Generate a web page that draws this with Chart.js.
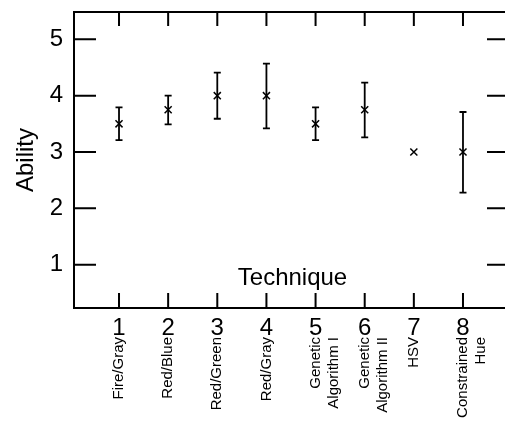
<!DOCTYPE html>
<html>
<head>
<meta charset="utf-8">
<script src="https://cdn.jsdelivr.net/npm/chart.js@4"></script>
<style>
  html, body { margin: 0; padding: 0; background: #fff; }
  #wrap { width: 505px; height: 421px; }
</style>
</head>
<body>
<div id="wrap"><canvas id="chart" width="505" height="421"></canvas></div>
<script>
const techniqueNumbers = [1, 2, 3, 4, 5, 6, 7, 8];
const techniqueNames = [
  ['Fire/Gray'], ['Red/Blue'], ['Red/Green'], ['Red/Gray'],
  ['Genetic', 'Algorithm I'], ['Genetic', 'Algorithm II'], ['HSV'], ['Constrained', 'Hue']
];
const meanAbility = [3.5, 3.75, 4.0, 4.0, 3.5, 3.75, 3.0, 3.0];
const errorLow = [3.21, 3.49, 3.59, 3.42, 3.21, 3.26, 3.0, 2.28];
const errorHigh = [3.79, 4.0, 4.41, 4.57, 3.79, 4.23, 3.0, 3.71];
const yTicks = [1, 2, 3, 4, 5];

const FONT = '"Liberation Sans", Arial, Helvetica, sans-serif';

// ticks point inward on all four sides, plus error bars and the inner title
const framePlugin = {
  id: 'frame',
  afterDraw(chart) {
    const { ctx, chartArea: a, scales } = chart;
    const x = scales.x, y = scales.y;
    ctx.save();
    ctx.strokeStyle = '#000';
    ctx.lineWidth = 2;
    ctx.beginPath();
    ctx.moveTo(a.left - 1, a.top);
    ctx.lineTo(a.right, a.top);
    techniqueNumbers.forEach(v => {
      const px = x.getPixelForValue(v);
      ctx.moveTo(px, a.top);
      ctx.lineTo(px, a.top + 14);
      ctx.moveTo(px, a.bottom);
      ctx.lineTo(px, a.bottom - 15);
    });
    yTicks.forEach(v => {
      const py = y.getPixelForValue(v);
      ctx.moveTo(a.left, py);
      ctx.lineTo(a.left + 22, py);
      ctx.moveTo(a.right - 18, py);
      ctx.lineTo(a.right, py);
    });
    ctx.stroke();

    // error bars
    ctx.lineWidth = 1.8;
    ctx.beginPath();
    techniqueNumbers.forEach((v, i) => {
      if (errorHigh[i] === errorLow[i]) return;
      const px = x.getPixelForValue(v);
      const top = y.getPixelForValue(errorHigh[i]);
      const bot = y.getPixelForValue(errorLow[i]);
      ctx.moveTo(px, top);
      ctx.lineTo(px, bot);
      ctx.moveTo(px - 3.5, top);
      ctx.lineTo(px + 3.5, top);
      ctx.moveTo(px - 3.5, bot);
      ctx.lineTo(px + 3.5, bot);
    });
    ctx.stroke();

    ctx.fillStyle = '#000';
    ctx.font = '24px ' + FONT;
    ctx.textAlign = 'center';
    ctx.textBaseline = 'middle';
    ctx.fillText('Technique', (a.left + a.right) / 2 + 3, a.bottom - 30);
    ctx.restore();
  }
};

const noPadX = h => s => { s.height = h; s.paddingLeft = 0; s.paddingRight = 0; };

new Chart(document.getElementById('chart'), {
  type: 'scatter',
  data: {
    datasets: [{
      data: techniqueNumbers.map((v, i) => ({ x: v, y: meanAbility[i] })),
      pointStyle: 'crossRot',
      radius: 5,
      borderColor: '#000',
      backgroundColor: '#000',
      borderWidth: 1.5
    }]
  },
  options: {
    responsive: false,
    animation: false,
    layout: { autoPadding: false, padding: { top: 12, left: 0, right: 0, bottom: 0 } },
    plugins: { legend: { display: false }, tooltip: { enabled: false } },
    scales: {
      x: {
        type: 'linear',
        position: 'bottom',
        weight: 0,
        min: 0.084,
        max: 8.855,
        afterBuildTicks: s => { s.ticks = techniqueNumbers.map(v => ({ value: v })); },
        afterFit: noPadX(29),
        grid: { display: false, drawTicks: false, tickLength: 0 },
        border: { display: true, color: '#000', width: 2 },
        ticks: {
          color: '#000',
          font: { family: FONT, size: 24 },
          padding: 6,
          maxRotation: 0,
          callback: v => String(v)
        }
      },
      names: {
        type: 'linear',
        position: 'bottom',
        weight: 1,
        min: 0.084,
        max: 8.855,
        afterBuildTicks: s => { s.ticks = techniqueNumbers.map(v => ({ value: v })); },
        afterFit: noPadX(84),
        grid: { display: false, drawTicks: false, tickLength: 0 },
        border: { display: false },
        ticks: {
          color: '#000',
          font: { family: FONT, size: 15 },
          padding: 0,
          minRotation: 90,
          maxRotation: 90,
          autoSkip: false,
          callback: (v, i) => techniqueNames[i]
        }
      },
      y: {
        type: 'linear',
        min: 0.23,
        max: 5.485,
        afterBuildTicks: s => { s.ticks = yTicks.map(v => ({ value: v })); },
        afterFit: s => { s.width = 74; s.paddingTop = 0; s.paddingBottom = 0; },
        grid: { display: false, drawTicks: false, tickLength: 0 },
        border: { display: true, color: '#000', width: 2 },
        title: {
          display: true,
          text: 'Ability',
          color: '#000',
          font: { family: FONT, size: 24 },
          padding: { top: 12, bottom: 0 }
        },
        ticks: {
          color: '#000',
          font: { family: FONT, size: 24 },
          padding: 11,
          callback: v => String(v)
        }
      }
    }
  },
  plugins: [framePlugin]
});
</script>
</body>
</html>
